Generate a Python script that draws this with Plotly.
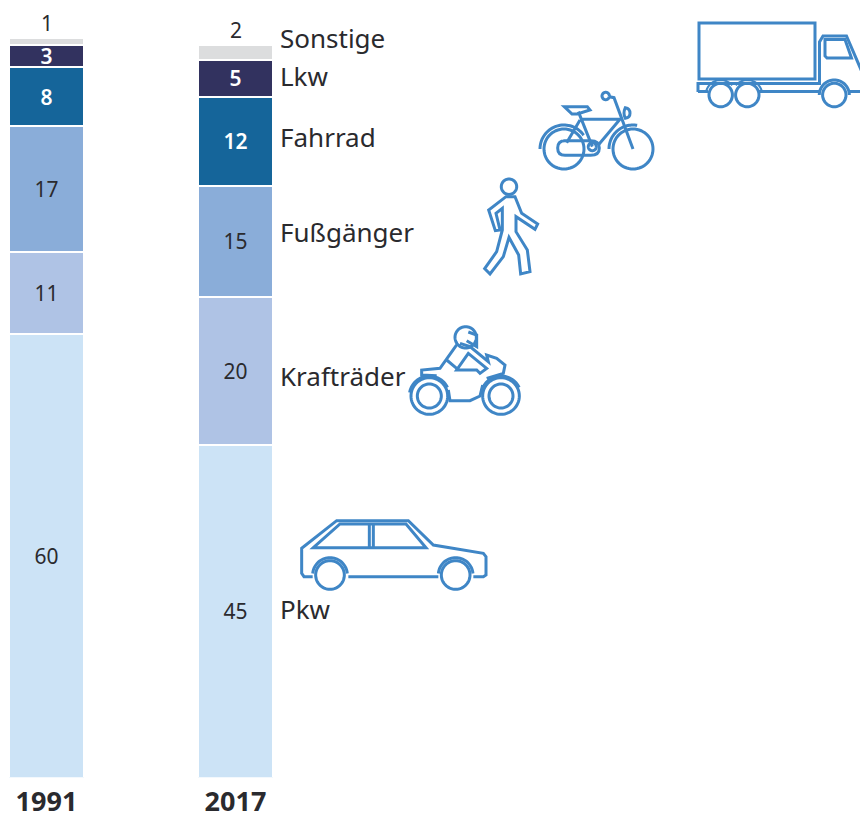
import math
import re
import plotly.graph_objects as go

W, H = 860, 813
FONT = "Noto Sans"
INK = "#2a2a2e"
ICON = "#3f86c6"

years = ["1991", "2017"]
categories = ["Pkw", "Krafträder", "Fußgänger", "Fahrrad", "Lkw", "Sonstige"]
values_1991 = [60, 11, 17, 8, 3, 1]
values_2017 = [45, 20, 15, 12, 5, 2]
colors = ["#cce3f6", "#afc3e5", "#8aadd9", "#15659a", "#32325f", "#dcddde"]
text_colors = [INK, INK, INK, "#ffffff", "#ffffff", INK]
label_rows = [609, 376, 232, 137, 76, 38]

AXIS_BOTTOM = 777.5
PX_PER_UNIT = 7.40
BAR_STEP = 189
FIRST_CENTER = 46.5

fig = go.Figure()
for i, cat in enumerate(categories):
    a, b = values_1991[i], values_2017[i]
    show = cat != "Sonstige"
    fig.add_trace(go.Bar(
        name=cat, x=years, y=[a, b],
        width=75 / BAR_STEP,
        marker=dict(color=colors[i], line=dict(color="#ffffff", width=2)),
        text=[str(a), str(b)] if show else None,
        textposition="inside" if show else "none",
        insidetextanchor="middle",
        constraintext="none",
        textangle=0,
        textfont=dict(family=FONT, size=21, color=text_colors[i],
                      weight=600 if text_colors[i] == "#ffffff" else 400),
        hoverinfo="name+y",
    ))


def px_x(x):
    return x / W


def px_y(y):
    return 1 - y / H


annotations = []
for idx, (vals, pos) in enumerate(((values_1991, 22.5), (values_2017, 29.5))):
    annotations.append(dict(
        x=idx, y=sum(vals), xref="x", yref="y", text=str(vals[-1]), showarrow=False,
        yanchor="middle", yshift=(AXIS_BOTTOM - sum(vals) * PX_PER_UNIT) - pos,
        font=dict(family=FONT, size=21, color=INK),
    ))
for cat, row in zip(categories, label_rows):
    annotations.append(dict(
        x=px_x(277.5), y=px_y(row), xref="paper", yref="paper", text=cat, showarrow=False,
        xanchor="left", yanchor="middle", font=dict(family=FONT, size=26, color=INK),
    ))


def convert(path, ox=0.0, oy=0.0, k=1.0):
    """Turn an SVG path in picture pixels into paper fractions."""
    nums = iter(range(10 ** 6))

    def sub(m):
        v = float(m.group(0))
        if next(nums) % 2 == 0:
            return f"{px_x(ox + v * k):.5f}"
        return f"{px_y(oy + v * k):.5f}"

    return re.sub(r"-?\d+(?:\.\d+)?", sub, path)


shapes = []


def stroke(path, ox=0.0, oy=0.0, k=1.0, w=3, fill=None):
    shapes.append(dict(type="path", path=convert(path, ox, oy, k), xref="paper", yref="paper",
                       line=dict(color=ICON, width=w),
                       fillcolor=fill if fill else "rgba(0,0,0,0)"))


def poly(points, closed=False):
    s = "M" + " L".join(f"{x:.2f} {y:.2f}" for x, y in points)
    return s + (" Z" if closed else "")


def arc(cx, cy, r, a0, a1, n=36):
    """Arc in picture pixels; angles are measured anticlockwise from +x."""
    return [(cx + r * math.cos(math.radians(a0 + (a1 - a0) * i / n)),
             cy - r * math.sin(math.radians(a0 + (a1 - a0) * i / n))) for i in range(n + 1)]


def circle(cx, cy, r, ox=0.0, oy=0.0, k=1.0, w=3):
    stroke(poly(arc(cx, cy, r, 0, 360, 60), True), ox, oy, k, w)


# Truck (coordinates in picture pixels)
stroke(poly([(699, 23), (815, 23), (815, 79), (699, 79)], True), w=3)
stroke(poly([(698, 92), (698, 83.5), (819.5, 83.5), (819.5, 42), (823, 36), (846.5, 36), (862, 72)]), w=3)
stroke(poly([(698, 91.5), (708, 91.5)]))
stroke(poly([(758, 91.5), (820, 91.5)]))
stroke(poly([(849, 91.5), (862, 91.5)]))
stroke(poly([(825, 39.5), (845, 39.5), (851.5, 58), (827, 58), (825, 56)], True))
for c in (720.7, 747.3, 834.3):
    circle(c, 95, 11.7)
stroke(poly(arc(834.3, 95, 15, 180, 0)), w=3)
stroke(poly(arc(720.7, 95, 15, 170, 40)), w=2)
stroke(poly(arc(747.3, 95, 15, 140, 10)), w=2)

# Bicycle
circle(564, 149, 20)
circle(633, 149, 20)
stroke(poly(arc(564, 149, 24, 180, 35)))
stroke(poly(arc(633, 149, 24, 180, 80)))
BK = dict(ox=470, oy=0, k=1 / 3)
stroke("M280 422 L362 422 Q388 422 388 444 Q388 466 362 466 L285 466 Q263 466 263 444 Q263 422 285 422 Z", **BK)
circle(592.3, 146.7, 4)
stroke("M325 335 L367 440 M335 358 L450 358 L385 435 M330 360 L290 428", **BK)
stroke("M418 290 L432 293 L489 447", **BK)
circle(605.7, 96, 3.7)
stroke("M283 320 L352 320 L360 330 L322 342 L306 342 Z", **BK)
stroke("M466 323 Q480 325 480 340 Q480 353 466 355 Q458 340 466 323 Z", **BK)

# Pedestrian
circle(509, 186.7, 7.7)
stroke("M108 590 L135 590 L155 640 L203 672 L195 688 L138 650 L138 695 L172 750 L180 815 "
       "L152 822 L146 765 L117 712 L100 770 L60 822 L44 806 L80 755 L97 690 L97 625 L78 640 "
       "L90 690 L76 692 L56 630 Z", **BK)

# Motorcycle and car
MC = dict(ox=280, oy=310, k=1 / 3)
for cx in (448, 663):
    circle(cx, 258, 55, **MC)
    circle(cx, 258, 36, **MC)
    stroke(poly(arc(cx, 258, 60, 170, 25)), **MC)
circle(557, 82, 32, **MC)
stroke("M565 66 L590 75 L590 110 L560 92", **MC)
stroke("M530 105 L480 175 L425 180 L425 195 L470 197 M505 240 L510 272 L570 272 L600 258 "
       "L608 225 M620 205 L670 190 L675 165 L650 145 L620 135 L625 155 L570 110 L540 100", **MC)
stroke("M565 130 L530 180 L590 180 L600 190 L620 175 Z M500 150 L530 175", **MC)

circle(150, 795, 43, **MC)
circle(527, 795, 43, **MC)
stroke("M98 800 L72 800 L65 790 L65 715 L170 632 L385 632 L460 705 L610 730 L618 740 L618 795 "
       "L610 800 L580 800 M475 800 L205 800", **MC)
stroke(poly(arc(150, 795, 52, 175, 5)), **MC)
stroke(poly(arc(527, 795, 52, 175, 5)), **MC)
stroke("M100 713 L180 642 L378 642 L438 713 Z M268 642 L268 713 M280 642 L280 713", **MC)

fig.update_layout(
    width=W, height=H,
    barmode="stack",
    showlegend=False,
    paper_bgcolor="#ffffff", plot_bgcolor="#ffffff",
    margin=dict(l=0, r=0, t=0, b=0, pad=0),
    xaxis=dict(
        type="category", domain=[0, 1], automargin=False,
        range=[-FIRST_CENTER / BAR_STEP, (W - FIRST_CENTER) / BAR_STEP],
        showgrid=False, zeroline=False, showline=False,
        ticks="", ticklabelstandoff=5,
        tickfont=dict(family=FONT, size=27, color=INK, weight=700),
    ),
    yaxis=dict(
        domain=[1 - AXIS_BOTTOM / H, 1],
        range=[0, AXIS_BOTTOM / PX_PER_UNIT],
        visible=False, automargin=False,
    ),
    annotations=annotations,
    shapes=shapes,
)

fig.write_html("out.html", config=dict(displayModeBar=False),
               post_script="document.body.style.margin='0';")
